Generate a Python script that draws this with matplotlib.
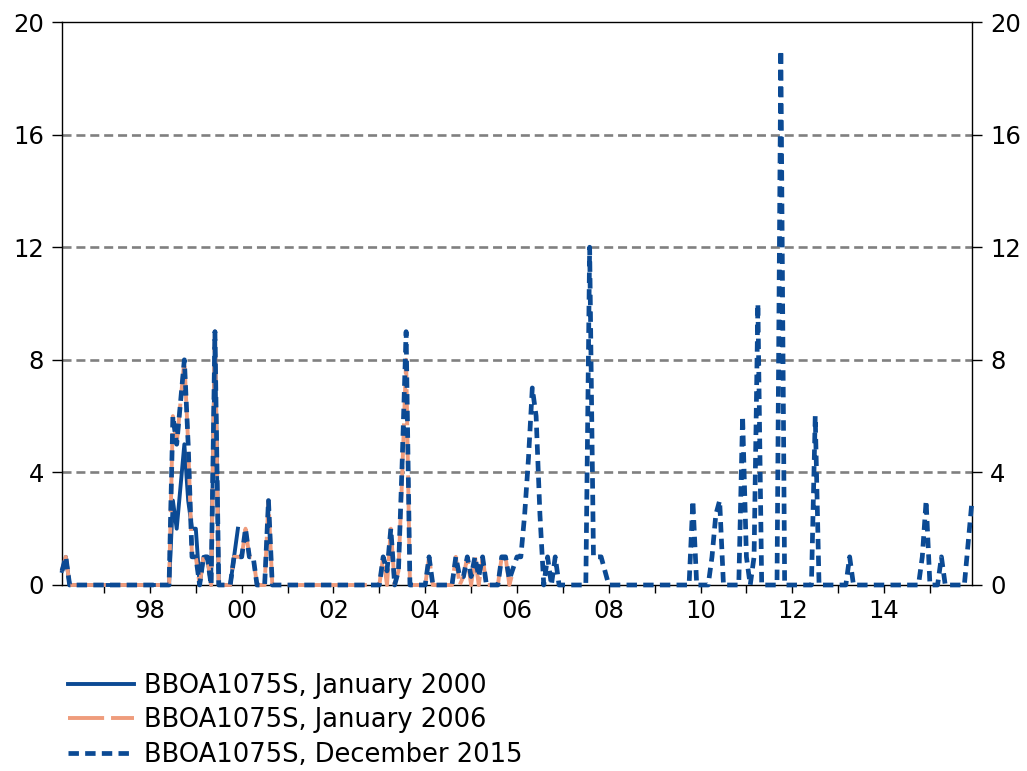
import matplotlib
matplotlib.use("Agg")
import matplotlib.pyplot as plt
import numpy as np
from matplotlib.ticker import FixedLocator, FixedFormatter

plt.rcParams["font.family"] = ["DejaVu Sans"]
plt.rcParams["lines.scale_dashes"] = False

# monthly observations, first one is February 1996
start_year, start_month = 1996, 2

jan2000 = [
    0.5, 1, 0, 0, 0, 0, 0, 0, 0, 0, 0,       # 1996 (Feb-Dec)
    0, 0, 0, 0, 0, 0, 0, 0, 0, 0, 0, 0,       # 1997
    0, 0, 0, 0, 0, 0, 3, 2, 3.5, 5, 3, 2,     # 1998
    2, 0, 1, 1, 0, 9, 0, 0, 0, 0, 1, 2,       # 1999
]

jan2006 = [
    0.5, 1, 0, 0, 0, 0, 0, 0, 0, 0, 0,        # 1996
    0, 0, 0, 0, 0, 0, 0, 0, 0, 0, 0, 0,       # 1997
    0, 0, 0, 0, 0, 0, 6, 5, 6.5, 8, 5, 1,     # 1998
    1, 0, 1, 1, 0, 9, 0, 0, 0, 0, 1, 1,       # 1999
    1, 2, 1, 1, 0, 0, 0, 3, 0, 0, 0, 0,       # 2000
    0, 0, 0, 0, 0, 0, 0, 0, 0, 0, 0, 0,       # 2001
    0, 0, 0, 0, 0, 0, 0, 0, 0, 0, 0, 0,       # 2002
    0, 1, 0, 2, 0, 0.5, 4, 8, 0, 0, 0, 0,     # 2003
    0, 1, 0, 0, 0, 0, 0, 0, 1, 0, 0.3, 1,     # 2004
    0, 1, 0, 1, 0, 0, 0, 0, 1, 1, 0, 0.5,     # 2005
]

dec2015 = [
    0.5, 1, 0, 0, 0, 0, 0, 0, 0, 0, 0,        # 1996
    0, 0, 0, 0, 0, 0, 0, 0, 0, 0, 0, 0,       # 1997
    0, 0, 0, 0, 0, 0, 6, 5, 6.5, 8, 5, 1,     # 1998
    1, 0, 1, 1, 0, 9, 0, 0, 0, 0, 1, 1,       # 1999
    1, 2, 1, 1, 0, 0, 0, 3, 0, 0, 0, 0,       # 2000
    0, 0, 0, 0, 0, 0, 0, 0, 0, 0, 0, 0,       # 2001
    0, 0, 0, 0, 0, 0, 0, 0, 0, 0, 0, 0,       # 2002
    0, 1, 0.5, 2, 0, 0.5, 4.5, 9, 0, 0, 0, 0, # 2003
    0, 1, 0, 0, 0, 0, 0, 0, 1, 0.3, 0.3, 1,   # 2004
    0.3, 1, 0.3, 1, 0, 0, 0, 0, 1, 1, 0.2, 0.6,  # 2005
    1, 1, 2.5, 4.5, 7, 6, 2.5, 0, 1, 0, 1, 0, # 2006
    0, 0, 0, 0, 0, 0, 0, 12, 1, 1, 1, 0.5,    # 2007
    0, 0, 0, 0, 0, 0, 0, 0, 0, 0, 0, 0,       # 2008
    0, 0, 0, 0, 0, 0, 0, 0, 0, 0, 3, 0,       # 2009
    0, 0, 0, 1, 2.5, 3, 0, 0, 0, 0, 0, 6,     # 2010
    1, 0, 1, 10, 0, 0, 0, 0, 0, 19, 0, 0,     # 2011
    0, 0, 0, 0, 0, 0, 6, 0, 0, 0, 0, 0,       # 2012
    0, 0, 0, 1, 0, 0, 0, 0, 0, 0, 0, 0,       # 2013
    0, 0, 0, 0, 0, 0, 0, 0, 0, 0, 1, 3,       # 2014
    0, 0, 0, 1, 0, 0, 0, 0, 0, 0, 1.5, 3,     # 2015
]

labels = [
    "BBOA1075S, January 2000",
    "BBOA1075S, January 2006",
    "BBOA1075S, December 2015",
]

year_ticks = list(range(1997, 2016))
year_labels = ["98", "00", "02", "04", "06", "08", "10", "12", "14"]
y_ticks = [0, 4, 8, 12, 16, 20]

blue = "#0b4a94"
salmon = "#ef9c7c"


def months(values):
    return start_year + (start_month - 1 + np.arange(len(values))) / 12.0


fig = plt.figure(figsize=(10.27, 7.71), dpi=100)
ax = fig.add_axes([62 / 1027, 1 - 585 / 771, 910 / 1027, 563 / 771])

ax.plot(months(jan2000), jan2000, color=blue, lw=2.8, solid_joinstyle="round",
        label=labels[0], zorder=3, clip_on=False)
ax.plot(months(jan2006), jan2006, color=salmon, lw=2.8, linestyle=(0, (26, 5)),
        label=labels[1], zorder=4, clip_on=False)
ax.plot(months(dec2015), dec2015, color=blue, lw=3.4, linestyle=(0, (7.5, 4.5)),
        label=labels[2], zorder=5, clip_on=False)

x_all = months(dec2015)
ax.set_xlim(x_all[0], x_all[-1])
ax.set_ylim(0, 20)

for v in y_ticks[1:-1]:
    ax.axhline(v, color="#808080", lw=1.9, linestyle=(0, (6.5, 3.5)), zorder=1)

ax.xaxis.set_major_locator(FixedLocator(year_ticks))
ax.xaxis.set_major_formatter(FixedFormatter(
    [year_labels[(y - 1998) // 2] if y % 2 == 0 else "" for y in year_ticks]))
ax.set_yticks(y_ticks)
ax.tick_params(axis="x", direction="out", length=6, width=1.0, labelsize=17.5, pad=4)
ax.tick_params(axis="y", direction="out", length=7, width=1.0, labelsize=17.5, pad=6,
               right=True, labelright=True)
for sp in ax.spines.values():
    sp.set_linewidth(1.0)

fig.legend(loc="upper left", bbox_to_anchor=(68 / 1027, 1 - 673 / 771),
           frameon=False, fontsize=18.5, handlelength=2.55, handletextpad=0.4,
           labelspacing=0.33, borderpad=0, borderaxespad=0)

fig.savefig("out.png", dpi=100)
